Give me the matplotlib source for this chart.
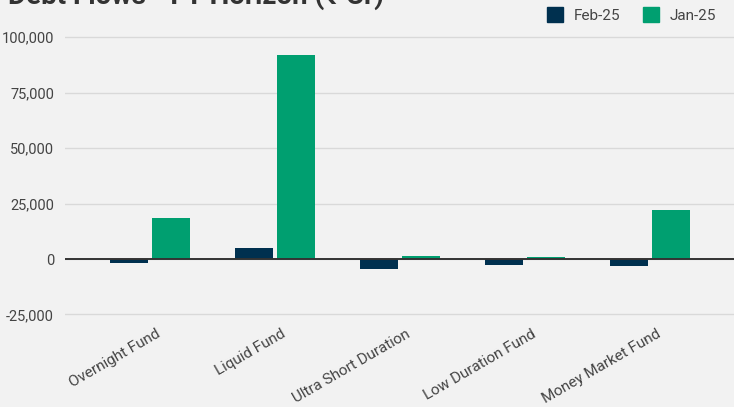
import matplotlib
matplotlib.use("Agg")
import matplotlib.pyplot as plt
import matplotlib.patches as mpatches
import matplotlib.transforms as mtransforms
import numpy as np

plt.rcParams['font.family'] = ['Roboto', 'DejaVu Sans']

categories = ["Overnight Fund", "Liquid Fund", "Ultra Short Duration",
              "Low Duration Fund", "Money Market Fund"]
feb_25 = [-1950, 4800, -4400, -2700, -3150]
jan_25 = [18700, 91800, 1500, 900, 22100]
series_names = ["Feb-25", "Jan-25"]
colors = ["#00304f", "#009f70"]
yticks = [-25000, 0, 25000, 50000, 75000, 100000]

bg = "#f2f2f2"
W, H = 734, 407
fig = plt.figure(figsize=(W / 100, H / 100), dpi=100, facecolor=bg)

# axes placed in pixel terms: left 65, right 734, top 15, bottom 330
left, right, top, bottom = 65, 734, 15, 330
ax = fig.add_axes([left / W, 1 - bottom / H, (right - left) / W, (bottom - top) / H])
ax.set_facecolor(bg)

x = np.arange(len(categories))
width = 0.305
ax.bar(x - 0.165, feb_25, width, color=colors[0], zorder=3)
ax.bar(x + 0.165, jan_25, width, color=colors[1], zorder=3)

ax.set_xlim(-0.68, 4.672)
ax.set_ylim(-32000, 110000)
ax.set_yticks(yticks)
ax.set_yticklabels([f"{v:,}" for v in yticks])
ax.grid(axis='y', color="#d9d9d9", linewidth=1, zorder=0)
ax.axhline(0, color="#333333", linewidth=1.4, zorder=4)
for s in ax.spines.values():
    s.set_visible(False)
ax.tick_params(axis='y', length=0, pad=8, labelsize=10.5, labelcolor="#444444")
ax.tick_params(axis='x', length=0, pad=0, labelsize=11, labelcolor="#444444")

ax.set_xticks(x)
ax.set_xticklabels(categories, rotation=30, ha='right', va='top', rotation_mode='anchor')
offset = mtransforms.ScaledTranslation(6 / 100, 3 / 100, fig.dpi_scale_trans)
for lbl in ax.get_xticklabels():
    lbl.set_transform(lbl.get_transform() + offset)

# title, mostly cut off at the top edge as in the source
fig.text(8 / W, 1 - 4 / H, "Debt Flows - FY Horizon (₹ Cr)", fontsize=20,
         fontweight='bold', color="#333333", ha='left', va='baseline')

handles = [mpatches.Patch(color=c, label=n) for c, n in zip(colors, series_names)]
fig.legend(handles=handles, loc='center right', bbox_to_anchor=(730 / W, 1 - 15 / H),
           ncol=2, frameon=False, fontsize=11, handlelength=1.05, handleheight=1.1,
           handletextpad=0.7, columnspacing=1.5, labelcolor="#444444")

fig.savefig("out.png", dpi=100, facecolor=bg)
